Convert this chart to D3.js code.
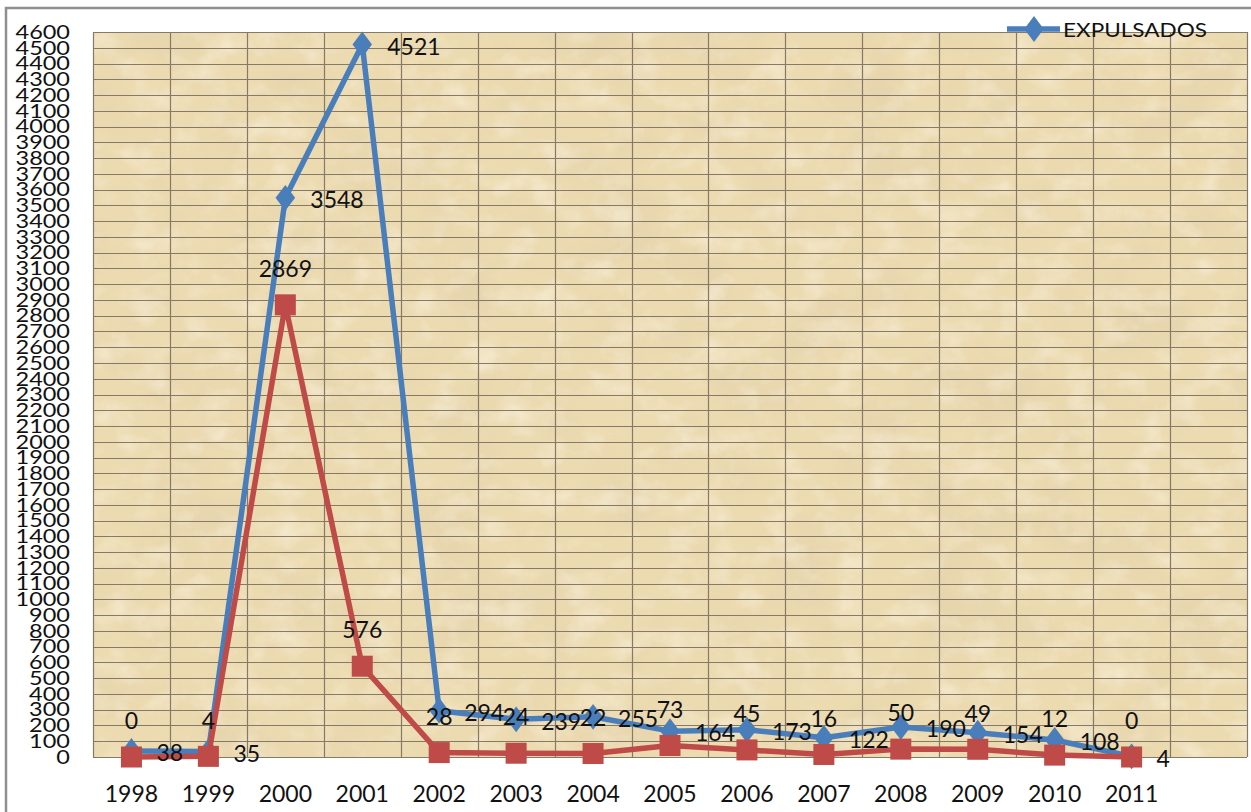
<!DOCTYPE html>
<html>
<head>
<meta charset="utf-8">
<script src="https://cdn.jsdelivr.net/npm/d3@7"></script>
<style>
  html, body { margin: 0; padding: 0; background: #fff; }
  svg { display: block; }
  text { font-family: Lato, "Open Sans", sans-serif; fill: #111; }
</style>
</head>
<body>
<svg id="chart" width="1251" height="812"></svg>
<script>
// ---- data ----
const years = ["1998","1999","2000","2001","2002","2003","2004","2005","2006","2007","2008","2009","2010","2011"];
const slots = years.concat([""]); // the category axis has one empty slot at the end
const expulsados = [38, 35, 3548, 4521, 294, 239, 255, 164, 173, 122, 190, 154, 108, 4];
const serie2 = [0, 4, 2869, 576, 28, 24, 22, 73, 45, 16, 50, 49, 12, 0];
const yTicks = d3.range(0, 4601, 100);
const legendLabel = "EXPULSADOS";

// ---- layout ----
const W = 1251, H = 812;
const plot = { left: 93, right: 1247, top: 32, bottom: 757 };
const svg = d3.select("#chart");

const x = d3.scaleBand().domain(slots).range([plot.left, plot.right]);
const y = d3.scaleLinear().domain([0, 4600]).range([plot.bottom, plot.top]);
const cx = d => x(d) + x.bandwidth() / 2;

// outer frame
svg.append("rect").attr("x", 6).attr("y", 8).attr("width", W + 20).attr("height", H + 20)
  .attr("fill", "#fff").attr("stroke", "#8f8f8f").attr("stroke-width", 2.5);

// parchment texture
const defs = svg.append("defs");
const f1 = defs.append("filter").attr("id", "parch").attr("x", 0).attr("y", 0).attr("width", 1).attr("height", 1);
f1.append("feTurbulence").attr("type", "fractalNoise").attr("baseFrequency", "0.012 0.014").attr("numOctaves", 5).attr("seed", 7).attr("result", "n");
f1.append("feColorMatrix").attr("in", "n").attr("type", "matrix")
  .attr("values", "0 0 0 0 0.72  0 0 0 0 0.60  0 0 0 0 0.40  1.6 0 0 0 -0.75").attr("result", "c");
f1.append("feComposite").attr("in", "c").attr("in2", "SourceGraphic").attr("operator", "in");
const f2 = defs.append("filter").attr("id", "parch2").attr("x", 0).attr("y", 0).attr("width", 1).attr("height", 1);
f2.append("feTurbulence").attr("type", "fractalNoise").attr("baseFrequency", "0.03 0.035").attr("numOctaves", 4).attr("seed", 3).attr("result", "n");
f2.append("feColorMatrix").attr("in", "n").attr("type", "matrix")
  .attr("values", "0 0 0 0 1  0 0 0 0 0.98  0 0 0 0 0.9  0 1.8 0 0 -0.85").attr("result", "c");
f2.append("feComposite").attr("in", "c").attr("in2", "SourceGraphic").attr("operator", "in");

const pw = plot.right - plot.left, ph = plot.bottom - plot.top;
svg.append("rect").attr("x", plot.left).attr("y", plot.top).attr("width", pw).attr("height", ph).attr("fill", "#ecdab0");
svg.append("rect").attr("x", plot.left).attr("y", plot.top).attr("width", pw).attr("height", ph).attr("fill", "#000").attr("filter", "url(#parch)").attr("opacity", 0.6);
svg.append("rect").attr("x", plot.left).attr("y", plot.top).attr("width", pw).attr("height", ph).attr("fill", "#000").attr("filter", "url(#parch2)").attr("opacity", 0.5);

// gridlines
const grid = svg.append("g").attr("stroke", "#857a68").attr("stroke-width", 1.2);
grid.selectAll("line.h").data(yTicks).join("line").attr("class", "h")
  .attr("x1", plot.left).attr("x2", plot.right)
  .attr("y1", d => Math.round(y(d)) + 0.5).attr("y2", d => Math.round(y(d)) + 0.5);
const vb = slots.map(s => x(s)).concat([plot.right]);
grid.selectAll("line.v").data(vb).join("line").attr("class", "v")
  .attr("x1", d => Math.round(d) + 0.5).attr("x2", d => Math.round(d) + 0.5)
  .attr("y1", plot.top).attr("y2", plot.bottom);

// y axis labels (vertically squashed as in the original)
const yAxis = svg.append("g");
yAxis.selectAll("text").data(yTicks).join("text")
  .attr("transform", d => `translate(70,${y(d)}) scale(1,0.8)`)
  .attr("text-anchor", "end").attr("dy", "0.36em")
  .style("font-size", "23.5px").text(d => d);

// x axis labels
svg.append("g").selectAll("text").data(years).join("text")
  .attr("x", d => cx(d)).attr("y", 802).attr("text-anchor", "middle")
  .style("font-size", "23px").text(d => d);

// lines
const blue = "#4a7ebb", red = "#be4b48";
const line = d3.line().x((d, i) => cx(years[i])).y(d => y(d));
svg.append("path").datum(expulsados).attr("d", line).attr("fill", "none")
  .attr("stroke", blue).attr("stroke-width", 5.5).attr("stroke-linejoin", "round");
svg.append("g").selectAll("path").data(expulsados).join("path")
  .attr("d", d3.symbol(d3.symbolDiamond, 300)())
  .attr("transform", (d, i) => `translate(${cx(years[i])},${y(d)}) scale(1.05,0.8)`)
  .attr("fill", blue);

svg.append("path").datum(serie2).attr("d", line).attr("fill", "none")
  .attr("stroke", red).attr("stroke-width", 5.5).attr("stroke-linejoin", "round");
svg.append("g").selectAll("rect").data(serie2).join("rect")
  .attr("x", (d, i) => cx(years[i]) - 10.5).attr("y", d => y(d) - 10.5)
  .attr("width", 21).attr("height", 21).attr("fill", red);

// data labels
svg.append("g").selectAll("text").data(serie2).join("text")
  .attr("x", (d, i) => cx(years[i])).attr("y", d => y(d) - 36).attr("dy", "0.36em")
  .attr("text-anchor", "middle").style("font-size", "23px").text(d => d);
svg.append("g").selectAll("text").data(expulsados).join("text")
  .attr("x", (d, i) => cx(years[i]) + 25).attr("y", d => y(d) + 2).attr("dy", "0.36em")
  .attr("text-anchor", "start").style("font-size", "23px").text(d => d);

// legend
const lg = svg.append("g");
lg.append("line").attr("x1", 1007).attr("x2", 1060).attr("y1", 29).attr("y2", 29)
  .attr("stroke", blue).attr("stroke-width", 5.5);
lg.append("path").attr("d", d3.symbol(d3.symbolDiamond, 300)())
  .attr("transform", "translate(1034,29) scale(1.05,0.8)").attr("fill", blue);
lg.append("text").attr("x", 1063).attr("y", 37).style("font-size", "19px")
  .attr("textLength", 144).attr("lengthAdjust", "spacingAndGlyphs").text(legendLabel);
</script>
</body>
</html>
